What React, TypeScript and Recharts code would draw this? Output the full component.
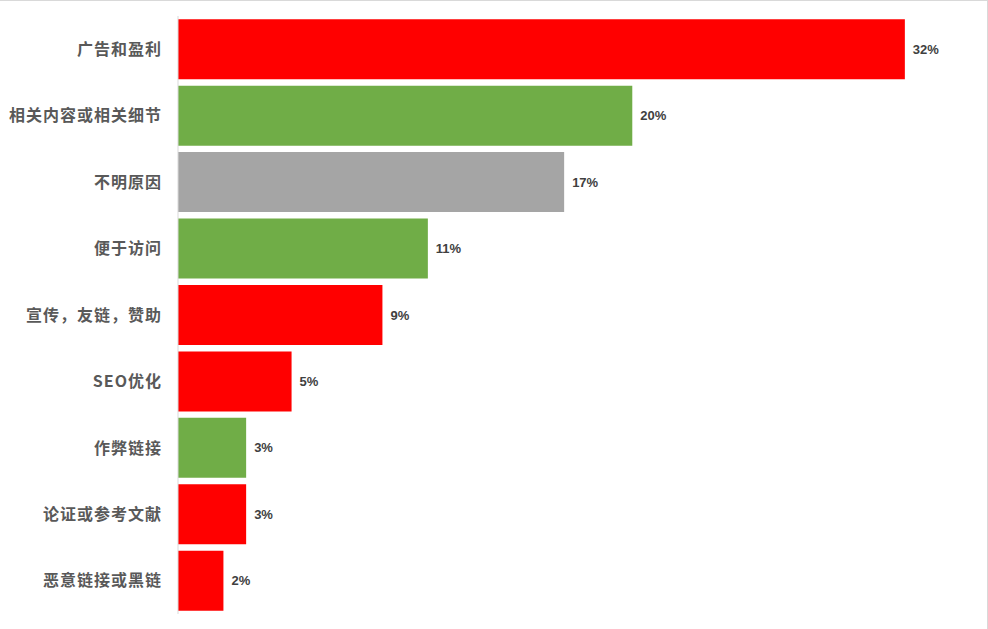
import { BarChart, Bar, XAxis, YAxis, Cell, LabelList } from "recharts"

const categories = ["广告和盈利", "相关内容或相关细节", "不明原因", "便于访问", "宣传，友链，赞助", "SEO优化", "作弊链接", "论证或参考文献", "恶意链接或黑链"]
const values = [32, 20, 17, 11, 9, 5, 3, 3, 2]
const colors = ["#FF0000", "#70AD47", "#A5A5A5", "#70AD47", "#FF0000", "#FF0000", "#70AD47", "#FF0000", "#FF0000"]

const data = categories.map((name, i) => ({ name, value: values[i], color: colors[i] }))

const cjkFont = '"Noto Sans CJK SC", "Liberation Sans", Arial, sans-serif'

export default function App() {
  return (
    <div
      style={{
        position: "absolute",
        left: 0,
        top: 0,
        width: 988,
        height: 629,
        background: "#fff",
        boxSizing: "border-box",
        borderTop: "1px solid #d9d9d9",
        borderRight: "1px solid #d9d9d9",
      }}
    >
      <BarChart
        width={987}
        height={628}
        data={data}
        layout="vertical"
        margin={{ top: 15, right: 14, bottom: 15, left: 0 }}
        barCategoryGap="4.8%"
      >
        <XAxis type="number" domain={[0, 35]} hide />
        <YAxis
          dataKey="name"
          type="category"
          width={178}
          axisLine={{ stroke: "#d9d9d9" }}
          tickLine={false}
          tickMargin={10}
          tick={{ fontSize: 16, fill: "#595959", fontWeight: 700, fontFamily: cjkFont, letterSpacing: 1 }}
        />
        <Bar dataKey="value" isAnimationActive={false}>
          {data.map((d, i) => (
            <Cell key={`cell-${i}`} fill={d.color} />
          ))}
          <LabelList
            dataKey="value"
            position="right"
            offset={8}
            formatter={(v: any) => `${v}%`}
            style={{ fontSize: 13, fill: "#404040", fontWeight: 700, fontFamily: '"Liberation Sans", Arial, sans-serif' }}
          />
        </Bar>
      </BarChart>
    </div>
  )
}
